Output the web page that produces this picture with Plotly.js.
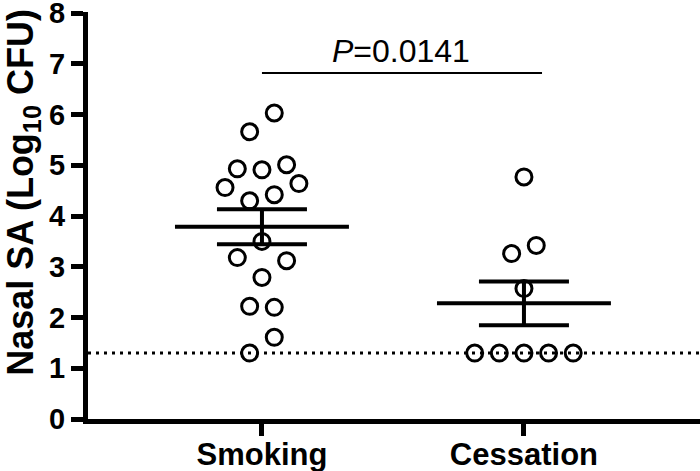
<!DOCTYPE html>
<html>
<head>
<meta charset="utf-8">
<script src="https://cdn.plot.ly/plotly-3.0.1.min.js"></script>
<style>
  html, body { margin: 0; padding: 0; background: #fff; }
  #plot-area { width: 700px; height: 471px; }
</style>
</head>
<body>
<div id="plot-area"></div>
<script>
// --- data ---
const groups = ['Smoking', 'Cessation'];
const smokingValues = [6.03, 5.66, 5.01, 4.93, 4.91, 4.64, 4.56, 4.42, 4.30, 3.50, 3.18, 3.12, 2.79, 2.22, 2.20, 1.61, 1.30];
const smokingColumns = [1, -1, 2, -2, 0, 3, -3, 1, -1, 0, -2, 2, 0, -1, 1, 1, -1];
const cessationValues = [4.77, 3.42, 3.26, 2.57, 1.30, 1.30, 1.30, 1.30, 1.30];
const cessationColumns = [0, 1, -1, 0, -4, -2, 0, 2, 4];
const detectionLimit = 1.3;
const pValueText = '<i>P</i>=0.0141';
const yTicks = [0, 1, 2, 3, 4, 5, 6, 7, 8];

// --- layout constants ---
const FONT = '"Liberation Sans", Arial, sans-serif';
const colStep = 0.047;      // beeswarm column spacing (x units)
const meanHalf = 0.332;     // half length of mean line
const groupX = [1, 2];

function mean(a) { return a.reduce((s, v) => s + v, 0) / a.length; }
function sem(a) {
    const m = mean(a);
    const v = a.reduce((s, x) => s + (x - m) ** 2, 0) / (a.length - 1);
    return Math.sqrt(v / a.length);
}

const allValues = [smokingValues, cessationValues];
const allColumns = [smokingColumns, cessationColumns];
const means = allValues.map(mean);
const sems = allValues.map(sem);

// points
const data = allValues.map((vals, g) => ({
    type: 'scatter',
    mode: 'markers',
    x: vals.map((_, i) => groupX[g] + allColumns[g][i] * colStep),
    y: vals,
    marker: { symbol: 'circle-open', size: 16, color: '#000', line: { width: 3, color: '#000' } },
    hoverinfo: 'none',
    cliponaxis: false
}));

// mean +/- SEM error bars
data.push({
    type: 'scatter',
    mode: 'markers',
    x: groupX,
    y: means,
    marker: { size: 1, color: 'rgba(0,0,0,0)' },
    error_y: { type: 'data', array: sems, visible: true, width: 45, thickness: 4, color: '#000' },
    hoverinfo: 'none'
});

const shapes = [];
// mean lines
means.forEach((m, g) => {
    shapes.push({
        type: 'line', xref: 'x', yref: 'y',
        x0: groupX[g] - meanHalf, x1: groupX[g] + meanHalf, y0: m, y1: m,
        line: { color: '#000', width: 4 }
    });
});
// detection limit
shapes.push({
    type: 'line', xref: 'paper', yref: 'y',
    x0: 0, x1: 1, y0: detectionLimit, y1: detectionLimit,
    line: { color: '#000', width: 3, dash: '3px,5px' }
});
// significance bar
const barY = 6.82;
shapes.push({
    type: 'line', xref: 'x', yref: 'y',
    x0: groupX[0], x1: groupX[1] + 0.069, y0: barY, y1: barY,
    line: { color: '#000', width: 2 }
});

const annotations = [
    {
        x: 1.53, y: barY, xref: 'x', yref: 'y',
        text: pValueText, showarrow: false,
        xanchor: 'center', yanchor: 'bottom', yshift: 2,
        font: { family: FONT, size: 32, color: '#000' }
    },
    {
        x: -0.106, y: 0.556, xref: 'paper', yref: 'paper',
        text: 'Nasal SA (Log<sub>10</sub> CFU)', textangle: -90, showarrow: false,
        xanchor: 'center', yanchor: 'middle',
        font: { family: FONT, size: 36, color: '#000', weight: 'bold' }
    }
];

const layout = {
    width: 700,
    height: 471,
    showlegend: false,
    margin: { l: 88, r: 0, t: 12, b: 52 },
    plot_bgcolor: '#fff',
    paper_bgcolor: '#fff',
    xaxis: {
        range: [0.336, 2.672],
        tickvals: groupX,
        ticktext: groups,
        ticks: 'outside', ticklen: 12, tickwidth: 5, tickcolor: '#000',
        ticklabelstandoff: -8,
        showline: true, linewidth: 5, linecolor: '#000',
        showgrid: false, zeroline: false,
        tickfont: { family: FONT, size: 31, color: '#000', weight: 'bold' }
    },
    yaxis: {
        range: [0, 8.02],
        tickvals: yTicks,
        ticks: 'outside', ticklen: 12, tickwidth: 5, tickcolor: '#000',
        ticklabeloverflow: 'allow',
        showline: true, linewidth: 5, linecolor: '#000',
        showgrid: false, zeroline: false,
        tickfont: { family: FONT, size: 29, color: '#000', weight: 'bold' }
    },
    shapes: shapes,
    annotations: annotations
};

Plotly.newPlot('plot-area', data, layout, { displayModeBar: false, staticPlot: true });
</script>
</body>
</html>
